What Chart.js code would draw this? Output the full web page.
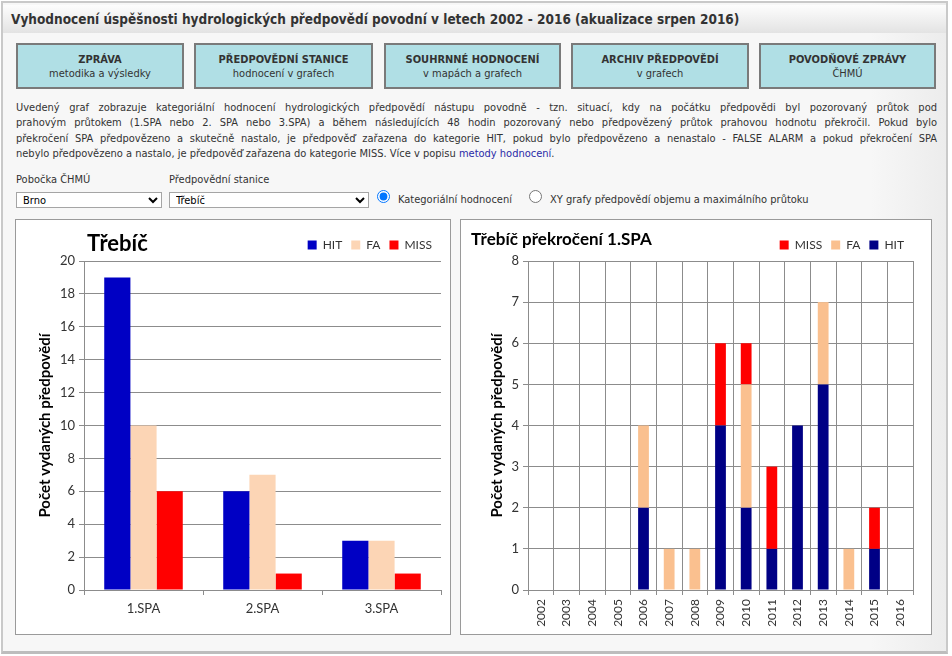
<!DOCTYPE html>
<html lang="cs">
<head>
<meta charset="utf-8">
<title>Vyhodnocení úspěšnosti hydrologických předpovědí</title>
<script src="https://cdn.jsdelivr.net/npm/chart.js@4.4.1/dist/chart.umd.min.js"></script>
<style>
  html, body { margin: 0; padding: 0; background: #fff; }
  body { width: 952px; height: 656px; position: relative; overflow: hidden; font-family: "DejaVu Sans Condensed", "DejaVu Sans", sans-serif; color: #333; }
  #page { position: absolute; left: 1px; top: 1px; width: 947px; height: 653px; border: 2px solid #c9c9c9; border-bottom: 3px solid #bdbdbd;
    background: linear-gradient(to right, #f7f7f7 0%, #f7f7f7 92%, #ececec 100%); box-sizing: border-box; }
  #head { position: absolute; left: 0; top: 2px; width: 100%; height: 28px; background: linear-gradient(#fdfdfd, #e3e3e3);
    font-weight: bold; font-size: 13.5px; line-height: 28px; padding-left: 8px; box-sizing: border-box; color: #333; }
  .btn { position: absolute; top: 40px; height: 46px; background: #b0dfe5; border: 2px solid #7a7a7a; box-sizing: border-box;
    text-align: center; font-size: 11px; line-height: 14px; padding-top: 8px; color: #333; }
  .btn b { display: block; font-weight: bold; }
  #txt { position: absolute; left: 13px; top: 97px; width: 921px; font-size: 11px; line-height: 15.3px; color: #333; }
  #txt div { text-align: justify; text-align-last: justify; white-space: nowrap; }
  #txt div.last { text-align-last: left; }
  #txt a { color: #2b2ba8; text-decoration: none; }
  .lab { position: absolute; top: 170px; font-size: 11px; }
  select { position: absolute; top: 189px; height: 16px; font-size: 11px; font-family: inherit; border: 1px solid #a5a5a5; background: #fff; padding: 0 2px; }
  .radio { position: absolute; top: 187px; margin: 0; }
  .rlab { position: absolute; top: 190px; font-size: 11px; }
  .box { position: absolute; top: 216px; height: 416px; background: #fff; border: 1px solid #9a9a9a; box-sizing: border-box; }
</style>
</head>
<body>
<div id="page">
  <div id="head">Vyhodnocení úspěšnosti hydrologických předpovědí povodní v letech 2002 - 2016 (akualizace srpen 2016)</div>

  <div class="btn" style="left:13px;width:168px"><b>ZPRÁVA</b>metodika a výsledky</div>
  <div class="btn" style="left:191px;width:179px"><b>PŘEDPOVĚDNÍ STANICE</b>hodnocení v grafech</div>
  <div class="btn" style="left:381px;width:177px"><b>SOUHRNNÉ HODNOCENÍ</b>v mapách a grafech</div>
  <div class="btn" style="left:568px;width:178px"><b>ARCHIV PŘEDPOVĚDÍ</b>v grafech</div>
  <div class="btn" style="left:756px;width:177px"><b>POVODŇOVÉ ZPRÁVY</b>ČHMÚ</div>

  <div id="txt">
    <div>Uvedený graf zobrazuje kategoriální hodnocení hydrologických předpovědí nástupu povodně - tzn. situací, kdy na počátku předpovědi byl pozorovaný průtok pod</div>
    <div>prahovým průtokem (1.SPA nebo 2. SPA nebo 3.SPA) a během následujících 48 hodin pozorovaný nebo předpovězený průtok prahovou hodnotu překročil. Pokud bylo</div>
    <div>překročení SPA předpovězeno a skutečně nastalo, je předpověď zařazena do kategorie HIT, pokud bylo předpovězeno a nenastalo - FALSE ALARM a pokud překročení SPA</div>
    <div class="last">nebylo předpovězeno a nastalo, je předpověď zařazena do kategorie MISS. Více v popisu <a href="#">metody hodnocení</a>.</div>
  </div>

  <div class="lab" style="left:13px">Pobočka ČHMÚ</div>
  <div class="lab" style="left:166px">Předpovědní stanice</div>
  <select style="left:13px;width:146px"><option>Brno</option></select>
  <select style="left:166px;width:200px"><option>Třebíč</option></select>
  <input class="radio" type="radio" name="m" checked style="left:374px">
  <div class="rlab" style="left:395px">Kategoriální hodnocení</div>
  <input class="radio" type="radio" name="m" style="left:526px">
  <div class="rlab" style="left:547px">XY grafy předpovědí objemu a maximálního průtoku</div>

  <div class="box" style="left:12px;width:436px"><canvas id="left" width="434" height="414"></canvas></div>
  <div class="box" style="left:457px;width:472px"><canvas id="right" width="470" height="414"></canvas></div>
</div>

<script>
// souhrn za stanici Třebíč podle SPA
const spaLabels = ["1.SPA", "2.SPA", "3.SPA"];
const hitTotals = [19, 6, 3];
const faTotals = [10, 7, 3];
const missTotals = [6, 1, 1];

// překročení 1.SPA po letech
const years = ["2002", "2003", "2004", "2005", "2006", "2007", "2008", "2009",
  "2010", "2011", "2012", "2013", "2014", "2015", "2016"];
const hitByYear = [0, 0, 0, 0, 2, 0, 0, 4, 2, 1, 4, 5, 0, 1, 0];
const faByYear = [0, 0, 0, 0, 2, 1, 1, 0, 3, 0, 0, 2, 1, 0, 0];
const missByYear = [0, 0, 0, 0, 0, 0, 0, 2, 1, 2, 0, 0, 0, 1, 0];

const yTitle = "Počet vydaných předpovědí";
const gridGray = "#8c8c8c";
const chartFont = "Lato, 'Open Sans', sans-serif";

Chart.defaults.font.family = chartFont;
Chart.defaults.color = "#000";

// nadpis grafu vlevo nahoře, na stejném řádku jako legenda
const cornerTitle = {
  id: "cornerTitle",
  afterDraw(chart, args, opts) {
    const ctx = chart.ctx;
    ctx.save();
    ctx.font = opts.font;
    ctx.fillStyle = "#000";
    ctx.textBaseline = "middle";
    ctx.fillText(opts.text, opts.x, opts.y);
    ctx.restore();
  }
};

const makeYAxis = (max, step, width) => ({
  min: 0,
  max: max,
  ticks: { stepSize: step, font: { size: 13 }, color: "#333", padding: 4 },
  grid: { color: gridGray, tickLength: 5, tickColor: gridGray },
  border: { color: gridGray },
  title: { display: true, text: yTitle, font: { size: 15, weight: "bold" }, color: "#000", padding: 0 },
  afterFit: (scale) => { scale.width = width; }
});

const legendLabels = { boxWidth: 9, boxHeight: 9, padding: 9, font: { size: 12 }, color: "#333" };

new Chart(document.getElementById("left"), {
  type: "bar",
  data: {
    labels: spaLabels,
    datasets: [
      { label: "HIT", data: hitTotals, backgroundColor: "#0000c4" },
      { label: "FA", data: faTotals, backgroundColor: "#fcd5b5" },
      { label: "MISS", data: missTotals, backgroundColor: "#ff0000" }
    ]
  },
  options: {
    responsive: false,
    animation: false,
    layout: { padding: { top: 10, left: 20, right: 9, bottom: 9 } },
    datasets: { bar: { categoryPercentage: 0.66, barPercentage: 1.0 } },
    scales: {
      x: {
        ticks: { font: { size: 13 }, color: "#333", padding: 6 },
        grid: { offset: true, drawOnChartArea: false, tickLength: 5, tickColor: gridGray },
        border: { color: gridGray },
        afterFit: (scale) => { scale.height = 35; }
      },
      y: makeYAxis(20, 2, 48)
    },
    plugins: {
      legend: { align: "end", labels: legendLabels },
      tooltip: { enabled: false },
      cornerTitle: { text: "Třebíč", font: "bold 22px " + chartFont, x: 71, y: 24 }
    }
  },
  plugins: [cornerTitle]
});

new Chart(document.getElementById("right"), {
  type: "bar",
  data: {
    labels: years,
    datasets: [
      { label: "HIT", data: hitByYear, backgroundColor: "#000085" },
      { label: "FA", data: faByYear, backgroundColor: "#fac08f" },
      { label: "MISS", data: missByYear, backgroundColor: "#ff0000" }
    ]
  },
  options: {
    responsive: false,
    animation: false,
    layout: { padding: { top: 10, left: 27, right: 18, bottom: 7 } },
    datasets: { bar: { categoryPercentage: 1.0, barPercentage: 0.42 } },
    scales: {
      x: {
        stacked: true,
        ticks: { font: { size: 12 }, color: "#333", padding: 4, minRotation: 90, maxRotation: 90 },
        grid: { offset: true, color: gridGray, tickLength: 5, tickColor: gridGray },
        border: { color: gridGray },
        afterFit: (scale) => { scale.height = 37; }
      },
      y: Object.assign(makeYAxis(8, 1, 40), { stacked: true })
    },
    plugins: {
      legend: { align: "end", reverse: true, labels: legendLabels },
      tooltip: { enabled: false },
      cornerTitle: { text: "Třebíč překročení 1.SPA", font: "bold 17px " + chartFont, x: 10, y: 20 }
    }
  },
  plugins: [cornerTitle]
});
</script>
</body>
</html>
